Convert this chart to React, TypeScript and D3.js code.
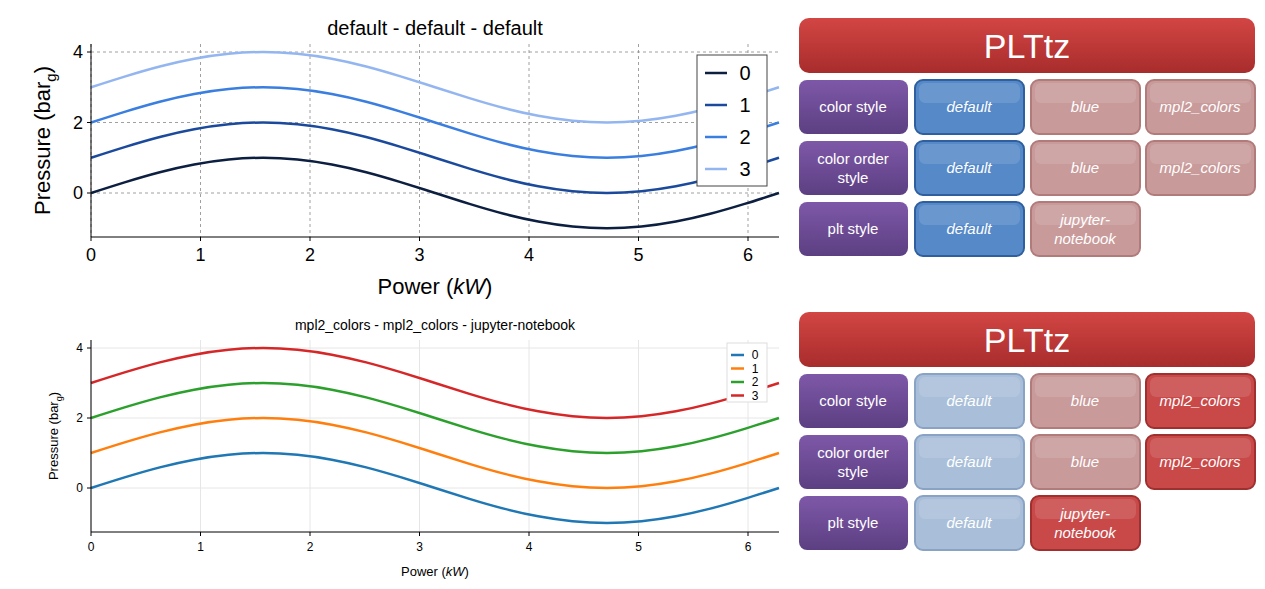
import React from "react";
import * as d3 from "d3";

const xs = [0,0.314,0.628,0.942,1.257,1.571,1.885,2.199,2.513,2.827,3.142,3.456,3.770,4.084,4.398,4.712,5.027,5.341,5.655,5.969,6.283];
const s0 = [0,0.31,0.59,0.81,0.95,1,0.95,0.81,0.59,0.31,0,-0.31,-0.59,-0.81,-0.95,-1,-0.95,-0.81,-0.59,-0.31,0];
const s1 = [1,1.31,1.59,1.81,1.95,2,1.95,1.81,1.59,1.31,1,0.69,0.41,0.19,0.05,0,0.05,0.19,0.41,0.69,1];
const s2 = [2,2.31,2.59,2.81,2.95,3,2.95,2.81,2.59,2.31,2,1.69,1.41,1.19,1.05,1,1.05,1.19,1.41,1.69,2];
const s3 = [3,3.31,3.59,3.81,3.95,4,3.95,3.81,3.59,3.31,3,2.69,2.41,2.19,2.05,2,2.05,2.19,2.41,2.69,3];
const series = [s0, s1, s2, s3];
const seriesNames = ["0", "1", "2", "3"];
const xTicks = [0,1,2,3,4,5,6];
const yTicks = [0,2,4];
const colorsBlue = ["#0c1f40", "#1b4a9c", "#3a7ee0", "#94b6f0"];
const colorsMpl = ["#1f77b4", "#ff7f0e", "#2ca02c", "#d62728"];
const rowLabels = [["color style"], ["color order", "style"], ["plt style"]];
const rowOptions = [["default","blue","mpl2_colors"],["default","blue","mpl2_colors"],["default","jupyter-\nnotebook"]];

function Chart({ top, title, colors, big }: any) {
  const x = d3.scaleLinear().domain([0, 6.283]).range([91, 779]);
  const y0 = big ? 193 : 488;
  const y = d3.scaleLinear().domain([0, 4]).range([y0, y0 - (big ? 141 : 140)]);
  const bottom = big ? 237 : 532;
  const topY = big ? 44 : 340;
  const line = d3.line<number>().x((_, i) => x(xs[i])).y(d => y(d)).curve(d3.curveNatural);
  const font = big ? "Liberation Sans, Arial, sans-serif" : "Liberation Sans Narrow, Liberation Sans, sans-serif";
  const tf = big ? 18 : 12;
  const lx = big ? 697 : 727, ly = big ? 55 : 343, lw = big ? 70 : 40, lh = big ? 131 : 59;
  return (
    <g fontFamily={font}>
      {xTicks.map(t => <line key={"gx"+t} x1={x(t)} x2={x(t)} y1={topY} y2={bottom} stroke={big ? "#888" : "#e6e6e6"} strokeDasharray={big ? "3,3" : undefined} strokeWidth={big ? 0.8 : 1}/>)}
      {[...yTicks, ...(big ? [] : [])].map(t => <line key={"gy"+t} x1={91} x2={779} y1={y(t)} y2={y(t)} stroke={big ? "#888" : "#e6e6e6"} strokeDasharray={big ? "3,3" : undefined} strokeWidth={big ? 0.8 : 1}/>)}
      {series.map((s, i) => <path key={i} d={line(s)!} fill="none" stroke={colors[i]} strokeWidth={big ? 2.5 : 2.5}/>)}
      <line x1={91} x2={91} y1={topY} y2={bottom} stroke="#000" strokeWidth={1}/>
      <line x1={91} x2={779} y1={bottom} y2={bottom} stroke="#000" strokeWidth={1}/>
      {xTicks.map(t => <g key={"tx"+t}>
        <line x1={x(t)} x2={x(t)} y1={bottom} y2={bottom + 4} stroke="#000"/>
        <text x={x(t)} y={bottom + (big ? 24 : 19)} textAnchor="middle" fontSize={tf}>{t}</text>
      </g>)}
      {yTicks.map(t => <g key={"ty"+t}>
        <line x1={87} x2={91} y1={y(t)} y2={y(t)} stroke="#000"/>
        <text x={83} y={y(t) + tf * 0.35} textAnchor="end" fontSize={tf}>{t}</text>
      </g>)}
      <text x={435} y={big ? 35 : 330} textAnchor="middle" fontSize={big ? 20 : 14}>{title}</text>
      <text x={435} y={big ? 294 : 576} textAnchor="middle" fontSize={big ? 22 : 13} fontFamily="Liberation Sans, Arial, sans-serif">Power (<tspan fontStyle="italic">kW</tspan>)</text>
      <text transform={`translate(${big ? 50 : 58},${(topY + bottom) / 2}) rotate(-90)`} textAnchor="middle" fontSize={big ? 22 : 13} fontFamily="Liberation Sans, Arial, sans-serif">
        Pressure (bar<tspan fontSize={big ? 15 : 9} dy={big ? 6 : 4}>g</tspan><tspan dy={big ? -6 : -4}>)</tspan>
      </text>
      <rect x={lx} y={ly} width={lw} height={lh} fill="#fff" stroke={big ? "#444" : "#ddd"} strokeWidth={1}/>
      {seriesNames.map((n, i) => {
        const yy = ly + (big ? 18 : 12) + i * (big ? 32 : 13.5);
        return <g key={n}>
          <line x1={lx + (big ? 8 : 4)} x2={lx + (big ? 30 : 17)} y1={yy} y2={yy} stroke={colors[i]} strokeWidth={2.5}/>
          <text x={lx + (big ? 48 : 28)} y={yy + (big ? 7 : 4)} fontSize={big ? 20 : 12} textAnchor="middle">{n}</text>
        </g>;
      })}
    </g>
  );
}

function Panel({ oy, active }: any) {
  const cols = [799, 915, 1031, 1146];
  const rows = [80, 141, 202];
  return (
    <g transform={`translate(0,${oy})`} fontFamily="Liberation Sans, Arial, sans-serif">
      <rect x={799} y={18} width={456} height={55} rx={10} fill="url(#gRed)"/>
      <text x={1027} y={58} textAnchor="middle" fontSize={34} fill="#fff">PLTtz</text>
      {rows.map((ry, r) => <g key={r}>
        <rect x={cols[0]} y={ry} width={109} height={54} rx={8} fill="url(#gPurple)"/>
        {rowLabels[r].map((l, k) => <text key={k} x={cols[0] + 54} y={ry + 32 + (k - (rowLabels[r].length - 1) / 2) * 19} textAnchor="middle" fontSize={15} fill="#fff">{l}</text>)}
        {rowOptions[r].map((o, c) => {
          const on = active[r] === c;
          const fill = c === 0 ? (on ? "#5689c8" : "#a9bfd9") : (on ? "#c94848" : "#c99a9a");
          const stroke = c === 0 ? (on ? "#2f5f9e" : "#8aa3c4") : (on ? "#a02f2f" : "#b27b7b");
          const lines = o.split("\n");
          return <g key={c}>
            <rect x={cols[c + 1]} y={ry} width={109} height={54} rx={8} fill={fill} stroke={stroke} strokeWidth={2}/>
            <rect x={cols[c + 1] + 4} y={ry + 3} width={101} height={20} rx={6} fill="#fff" opacity={0.12}/>
            {lines.map((l, k) => <text key={k} x={cols[c + 1] + 54} y={ry + 32 + (k - (lines.length - 1) / 2) * 19} textAnchor="middle" fontSize={15} fontStyle="italic" fill="#fff">{l}</text>)}
          </g>;
        })}
      </g>)}
    </g>
  );
}

export default function App() {
  return (
    <svg width={1265} height={589} style={{ position: "absolute", left: 0, top: 0, background: "#fff" }}>
      <defs>
        <linearGradient id="gRed" x1="0" y1="0" x2="0" y2="1">
          <stop offset="0" stopColor="#d24644"/><stop offset="1" stopColor="#a82c2c"/>
        </linearGradient>
        <linearGradient id="gPurple" x1="0" y1="0" x2="0" y2="1">
          <stop offset="0" stopColor="#7e58a8"/><stop offset="1" stopColor="#5c3f82"/>
        </linearGradient>
      </defs>
      <Chart big={true} title="default - default - default" colors={colorsBlue}/>
      <Chart big={false} title="mpl2_colors - mpl2_colors - jupyter-notebook" colors={colorsMpl}/>
      <Panel oy={0} active={[0, 0, 0]}/>
      <Panel oy={294} active={[2, 2, 1]}/>
    </svg>
  );
}
